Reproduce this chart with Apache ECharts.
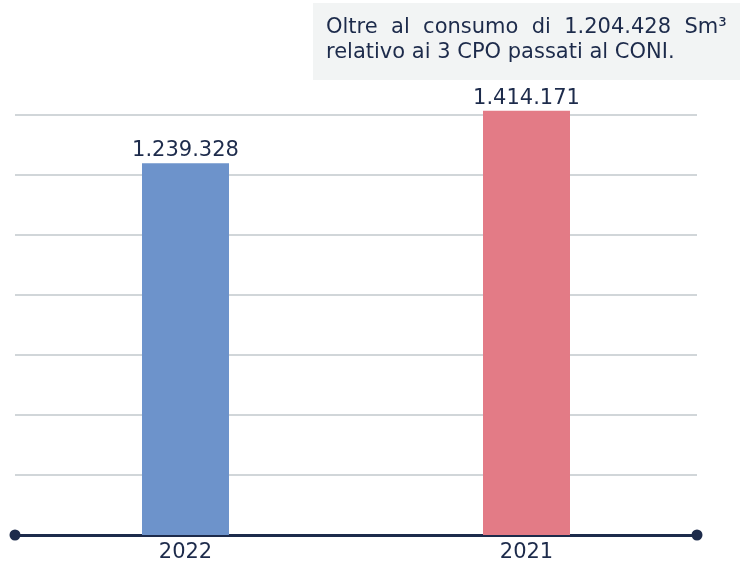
<!DOCTYPE html>
<html>
<head>
<meta charset="utf-8">
<script src="https://cdn.jsdelivr.net/npm/echarts@6/dist/echarts.min.js"></script>
<style>
  html, body { margin: 0; padding: 0; background: #fff; }
  #chart { width: 740px; height: 566px; }
</style>
</head>
<body>
<div id="chart"></div>
<script>
// data
const years = ['2022', '2021'];
const consumo = [1239328, 1414171];
const barColors = ['#6d93cb', '#e37b86'];
const noteLines = ['Oltre  al  consumo  di  1.204.428  Sm³', 'relativo ai 3 CPO passati al CONI.'];

const navy = '#1d2b4b';
const font = '"DejaVu Sans"';
const fmt = v => v.toLocaleString('de-DE');

const chart = echarts.init(document.getElementById('chart'));

const option = {
  animation: false,
  grid: { left: 15, right: 43, top: 115, bottom: 31 },
  xAxis: {
    type: 'category',
    data: years,
    axisTick: { show: false },
    axisLine: {
      lineStyle: { color: navy, width: 3 },
      symbol: ['circle', 'circle'],
      symbolSize: [11, 11]
    },
    axisLabel: { color: navy, fontSize: 21, fontFamily: font, margin: 7 }
  },
  yAxis: {
    type: 'value',
    min: 0,
    max: 1400000,
    interval: 200000,
    axisLabel: { show: false },
    axisLine: { show: false },
    axisTick: { show: false },
    splitLine: { lineStyle: { color: '#d1d6d9', width: 2 } }
  },
  graphic: [
    {
      type: 'rect',
      shape: { x: 313, y: 3, width: 427, height: 77 },
      style: { fill: '#f2f4f4' }
    },
    {
      type: 'text',
      left: 326,
      top: 15,
      style: {
        text: noteLines.join('\n'),
        fill: navy,
        font: '21px ' + font,
        lineHeight: 25
      }
    }
  ],
  series: [{
    type: 'bar',
    clip: false,
    barWidth: 87,
    data: consumo.map((v, i) => ({ value: v, itemStyle: { color: barColors[i] } })),
    label: {
      show: true,
      position: 'top',
      distance: 2,
      color: navy,
      fontSize: 21,
      fontFamily: font,
      formatter: p => fmt(p.value)
    }
  }]
};

chart.setOption(option);
</script>
</body>
</html>
